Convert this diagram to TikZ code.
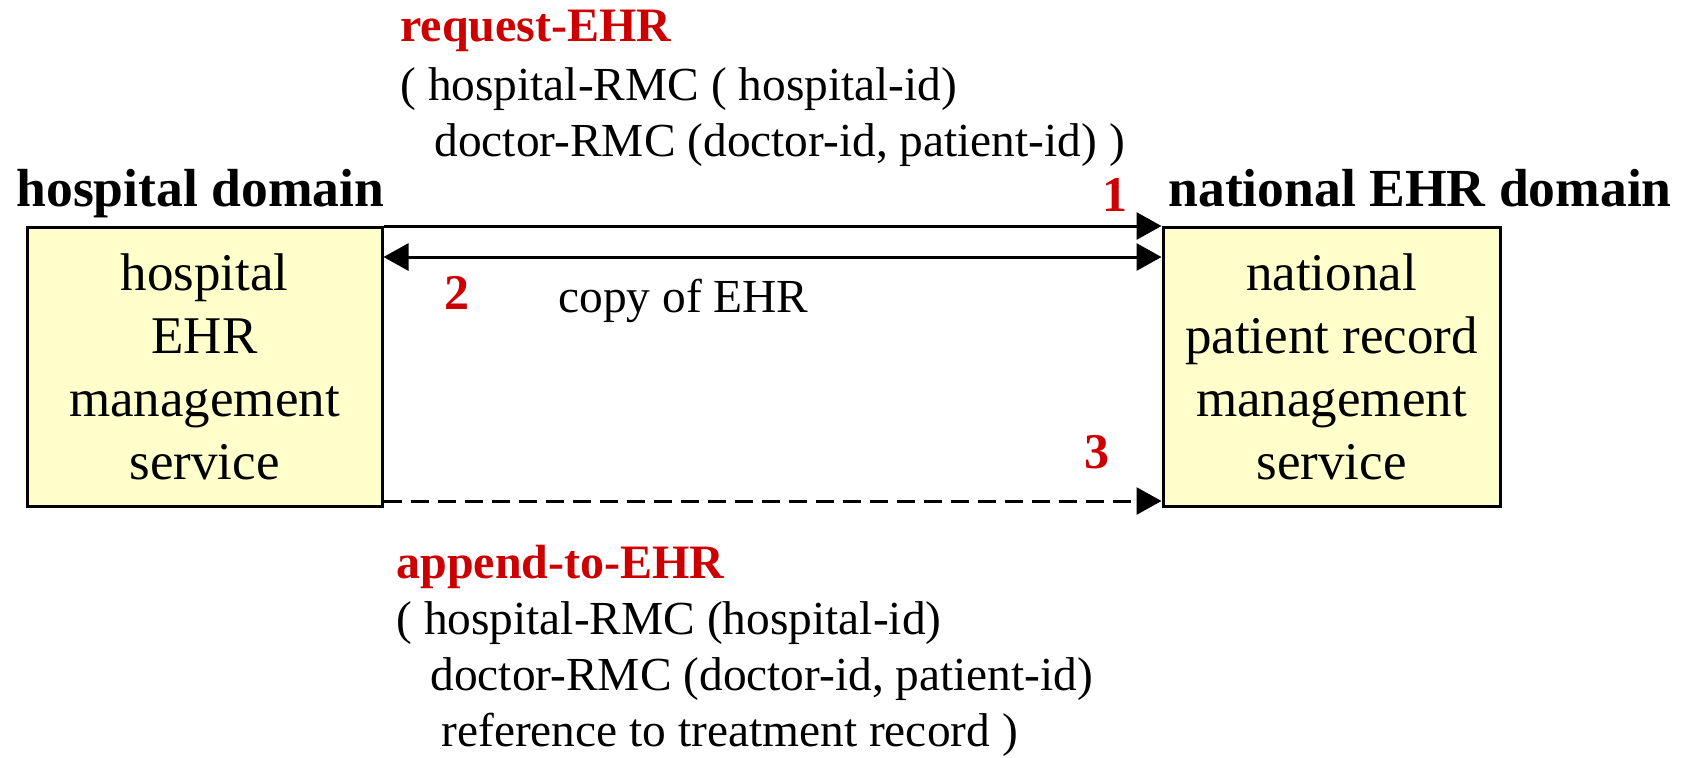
\documentclass[tikz,border=0pt]{standalone}
\usepackage{fontspec}
\setmainfont{Liberation Serif}
\usetikzlibrary{arrows.meta}
\definecolor{boxfill}{HTML}{FFFFCC}
\definecolor{msgred}{HTML}{CC0000}
\tikzset{
  service/.style={draw,line width=1.5pt,fill=boxfill,align=center,
    minimum height=139.5pt,font=\fontsize{26.5}{31.5}\selectfont},
  domainlabel/.style={anchor=base west,inner sep=0pt,font=\fontsize{26.8}{30}\selectfont\bfseries},
  msgname/.style={anchor=base west,inner sep=0pt,text=msgred,font=\fontsize{24}{28}\selectfont\bfseries},
  msgarg/.style={anchor=base west,inner sep=0pt,font=\fontsize{23.7}{28}\selectfont},
  stepno/.style={anchor=base,inner sep=0pt,text=msgred,font=\fontsize{25}{28}\selectfont\bfseries},
  tip/.tip={Triangle[length=12.5pt,width=13.5pt]},
  msg/.style={line width=1.5pt,-tip},
}
\begin{document}
\begin{tikzpicture}[x=0.5pt,y=-0.5pt]
    \useasboundingbox (0,0) rectangle (1686,757);
    % the two services
    \node[service,minimum width=177.5pt] at (204.5,367) (hosp) {hospital\\EHR\\management\\service};
    \node[service,minimum width=168.5pt] at (1331.5,367) (nat) {national\\patient record\\management\\service};
    \node[domainlabel] at (16,206) (hospdom) {hospital domain};
    \node[domainlabel] at (1168,206) (natdom) {national EHR domain};
    % message 1
    \node[msgname] at (400,41) (req) {request-EHR};
    \node[msgarg] at (400,100) (reqa) {( hospital-RMC ( hospital-id)};
    \node[msgarg] at (434,156) (reqb) {doctor-RMC (doctor-id, patient-id) )};
    \node[stepno] at (1115,211) (one) {1};
    % message 2
    \node[stepno] at (457,309) (two) {2};
    \node[msgarg] at (558,312) (copy) {copy of EHR};
    % message 3
    \node[stepno] at (1097,468) (three) {3};
    \node[msgname] at (396,578) (app) {append-to-EHR};
    \node[msgarg] at (396,634) (appa) {( hospital-RMC (hospital-id)};
    \node[msgarg] at (430,690) (appb) {doctor-RMC (doctor-id, patient-id)};
    \node[msgarg] at (441,746) (appc) {reference to treatment record )};
    \draw[msg] (hosp.north east) -- (nat.north west);
    \draw[msg,tip-tip] ([yshift=-15.5pt]hosp.north east) -- ([yshift=-15.5pt]nat.north west);
    \draw[msg,dash pattern=on 9pt off 4.5pt] ([yshift=3.5pt]hosp.south east) -- ([yshift=3.5pt]nat.south west);
\end{tikzpicture}
\end{document}
